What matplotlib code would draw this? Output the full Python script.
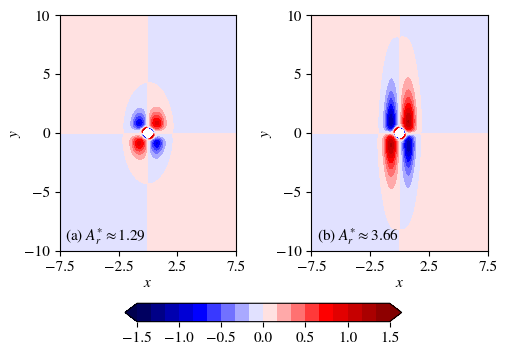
import matplotlib

matplotlib.use("Agg")
import matplotlib.pyplot as plt
import numpy as np

plt.rcParams["font.family"] = "STIXGeneral"
plt.rcParams["mathtext.fontset"] = "stix"
plt.rcParams["font.size"] = 11

# Panel labels and the amplitude quoted in each panel
PANEL_TAGS = ["(a)", "(b)"]
AMPLITUDES = [1.29, 3.66]

# Lobe shape per panel (peak value, x centre/width, y peak, y decay exponent)
LOBE_PEAK = [0.8, 1.1]
LOBE_X0 = [0.75, 0.75]
LOBE_SX = [0.6, 0.5]
LOBE_Y0 = [0.85, 1.0]
LOBE_K = [3, 1]
# Semi-axes of the ellipse where the weak far field changes sign
ELLIPSE_A = [2.1, 1.75]
ELLIPSE_B = [4.3, 8.1]
FAR_LEVEL = 0.1
RING_PEAK = 1.5
RING_WIDTH = 0.09
HOLE_RADIUS = 0.45

LEVELS = np.linspace(-1.5, 1.5, 19)
CBAR_TICKS = [-1.5, -1.0, -0.5, 0.0, 0.5, 1.0, 1.5]
X_TICKS = [-7.5, -2.5, 2.5, 7.5]
Y_TICKS = [-10, -5, 0, 5, 10]


def field(i, x, y):
    """Quadrupole-like field around a small hole."""
    r = np.hypot(x, y)
    sign = np.tanh(x / 0.15) * np.tanh(y / 0.15)
    t = np.abs(y) / LOBE_Y0[i]
    k = LOBE_K[i]
    lobe = (
        LOBE_PEAK[i]
        * np.exp(-(((np.abs(x) - LOBE_X0[i]) / LOBE_SX[i]) ** 2))
        * t**k
        * np.exp(k * (1 - t))
    )
    env = 2 * FAR_LEVEL * np.exp(
        -np.log(2) * ((x / ELLIPSE_A[i]) ** 2 + (y / ELLIPSE_B[i]) ** 2)
    ) - FAR_LEVEL
    ring = RING_PEAK * np.exp(-np.clip(r - HOLE_RADIUS, 0, None) / RING_WIDTH)
    v = sign * (lobe + env - ring)
    v[r < HOLE_RADIUS] = np.nan
    return v


xs = np.linspace(-7.5, 7.5, 751)
ys = np.linspace(-10, 10, 1001)
X, Y = np.meshgrid(xs, ys)

fig = plt.figure(figsize=(5.09, 3.57), dpi=100)
axes = [
    fig.add_axes([0.1165, 0.297, 0.3485, 0.660]),
    fig.add_axes([0.611, 0.297, 0.3485, 0.660]),
]

for i, ax in enumerate(axes):
    cs = ax.contourf(X, Y, field(i, X, Y), levels=LEVELS, cmap="seismic", extend="both")
    ax.set_xlim(-7.5, 7.5)
    ax.set_ylim(-10, 10)
    ax.set_aspect("equal")
    ax.set_xticks(X_TICKS)
    ax.set_yticks(Y_TICKS)
    ax.set_xlabel("$x$", labelpad=2)
    ax.set_ylabel("$y$", labelpad=1)
    ax.text(
        0.03,
        0.045,
        f"{PANEL_TAGS[i]} $A_r^{{*}} \\approx {AMPLITUDES[i]:.2f}$",
        transform=ax.transAxes,
    )

cax = fig.add_axes([0.2456, 0.099, 0.5436, 0.0515])
cb = fig.colorbar(cs, cax=cax, orientation="horizontal", extendfrac=0.048, ticks=CBAR_TICKS)

fig.savefig("out.png", dpi=100)
